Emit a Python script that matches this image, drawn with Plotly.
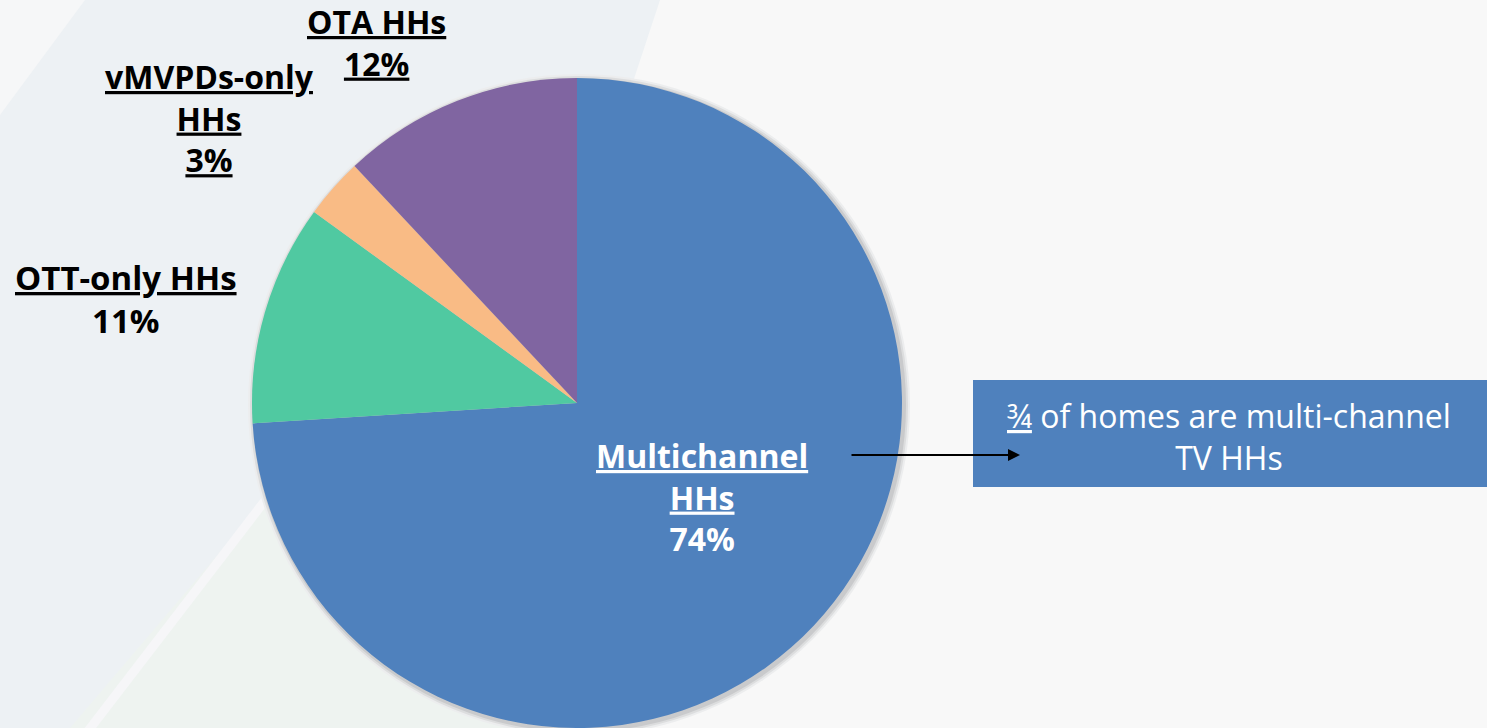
import plotly.graph_objects as go

W, H = 1487, 728

# ---- data ----
categories = ["Multichannel HHs", "OTT-only HHs", "vMVPDs-only HHs", "OTA HHs"]
shares = [74, 11, 3, 12]
colors = ["#4F81BD", "#50C9A1", "#F9BB85", "#8065A1"]

# label texts (rich text)
label_texts = [
    "<b><u>Multichannel</u><br><u>HHs</u><br>74%</b>",
    "<b><u>OTT-only HHs</u><br>11%</b>",
    "<b><u>vMVPDs-only</u><br><u>HHs</u><br><u>3%</u></b>",
    "<b><u>OTA HHs</u><br><u>12%</u></b>",
]
label_colors = ["white", "black", "black", "black"]
label_sizes = [32, 33, 32, 32]
# label centres in pixels (x, y from top)
label_pos = [(702, 497), (126, 299), (209, 118), (376, 42)]

callout_text = "<u>¾</u> of homes are multi-channel<br>TV HHs"

def px(x):
    return x / W

def py(y):
    return 1 - y / H

FONT = "'Open Sans', Lato, 'DejaVu Sans', sans-serif"

fig = go.Figure()

# pie geometry: centre (577, 403), radius 325
cx, cy, r = 577, 403, 325
fig.add_trace(go.Pie(
    labels=categories,
    values=shares,
    sort=False,
    direction="clockwise",
    rotation=0,
    marker=dict(colors=colors, line=dict(width=0)),
    textinfo="none",
    hoverinfo="label+percent",
    showlegend=False,
    domain=dict(x=[px(cx - r), px(cx + r)], y=[py(cy + r), py(cy - r)]),
))

shapes = []
# background tints
shapes.append(dict(type="path", xref="paper", yref="paper", layer="below",
                   path=f"M 0 1 L {px(660)} 1 L {px(420)} 0 L 0 0 Z",
                   fillcolor="#EDF1F4", line=dict(width=0)))
shapes.append(dict(type="path", xref="paper", yref="paper", layer="below",
                   path=f"M {px(290)} {py(470)} L {px(560)} {py(470)} L {px(560)} 0 L {px(70)} 0 Z",
                   fillcolor="#EEF3F0", line=dict(width=0)))
shapes.append(dict(type="line", xref="paper", yref="paper", layer="below",
                   x0=px(300), y0=py(455), x1=px(85), y1=py(735),
                   line=dict(color="#F6F6F8", width=9)))
shapes.append(dict(type="path", xref="paper", yref="paper", layer="below",
                   path=f"M 0 1 L {px(85)} 1 L 0 {py(115)} Z",
                   fillcolor="#F6F7F8", line=dict(width=0)))
# soft pie shadow
for d, col in [(6, "#ECEDEE"), (4, "#DCDDDE"), (2, "#C9CACC")]:
    shapes.append(dict(type="circle", xref="paper", yref="paper", layer="below",
                       x0=px(cx - r - d + 2), x1=px(cx + r + d + 2),
                       y0=py(cy + r + d + 2), y1=py(cy - r - d + 2),
                       fillcolor=col, line=dict(width=0)))
# callout box
shapes.append(dict(type="rect", xref="paper", yref="paper", layer="below",
                   x0=px(973), x1=1.0, y0=py(487), y1=py(380),
                   fillcolor="#4F81BD", line=dict(width=0)))

annotations = []
for t, c, s, (lx, ly) in zip(label_texts, label_colors, label_sizes, label_pos):
    annotations.append(dict(text=t, x=px(lx), y=py(ly), xref="paper", yref="paper",
                            xanchor="center", yanchor="middle", align="center",
                            showarrow=False, font=dict(family=FONT, size=s, color=c)))

annotations.append(dict(text=callout_text, x=px(1229), y=py(436), xref="paper", yref="paper",
                        xanchor="center", yanchor="middle", align="center", showarrow=False,
                        font=dict(family=FONT, size=32, color="white")))

annotations.append(dict(text="", x=px(1020), y=py(455), ax=-170, ay=0,
                        xref="paper", yref="paper", axref="pixel", ayref="pixel",
                        showarrow=True, arrowhead=2, arrowsize=1.2, arrowwidth=2,
                        arrowcolor="black"))

fig.update_layout(
    width=W, height=H,
    margin=dict(l=0, r=0, t=0, b=0),
    paper_bgcolor="#F8F8F8",
    plot_bgcolor="#F8F8F8",
    shapes=shapes,
    annotations=annotations,
    font=dict(family=FONT),
)

fig.write_html("out.html", config={"displayModeBar": False},
               post_script="document.body.style.margin='0px';document.body.style.overflow='hidden';")
